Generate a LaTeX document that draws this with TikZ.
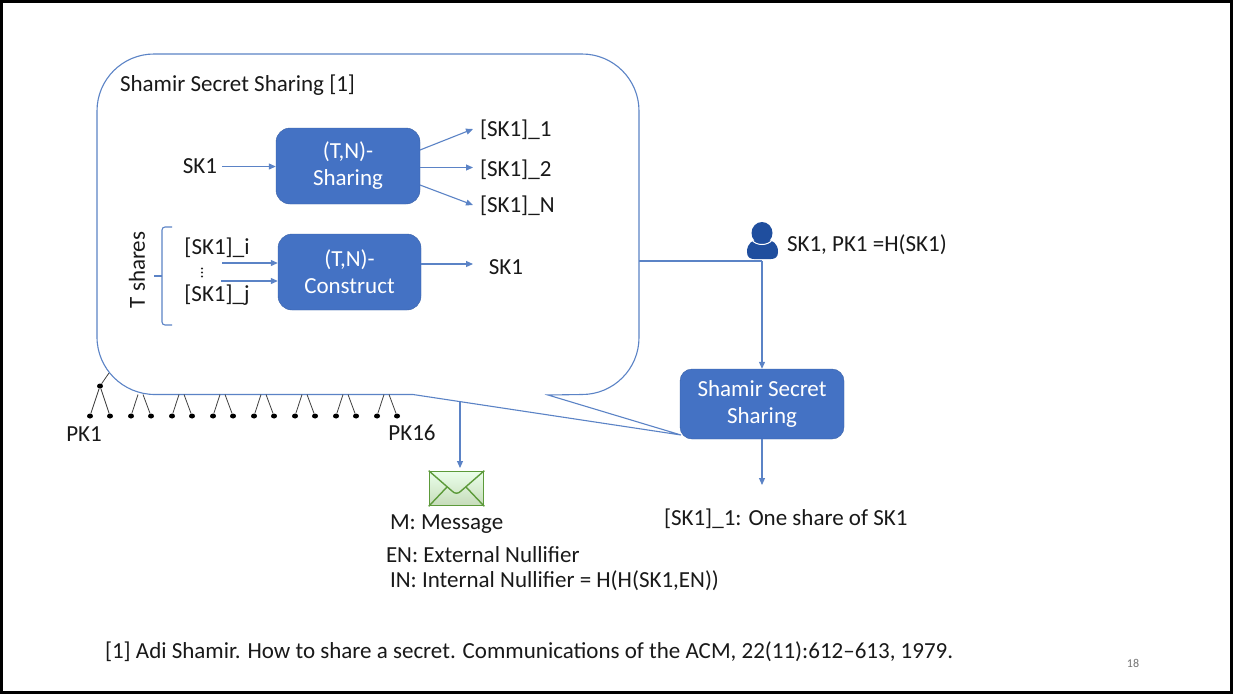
\documentclass[tikz,border=0pt]{standalone}
\usepackage{fontspec}
\setmainfont{Carlito}
\usetikzlibrary{arrows.meta,calc,shapes.geometric}
\definecolor{boxblue}{HTML}{4472C4}
\definecolor{linkblue}{HTML}{5B83C6}
\definecolor{iconblue}{HTML}{1F4E9E}
\definecolor{envgreen}{HTML}{5C9A3A}
\tikzset{
  x=1pt,y=-1pt,
  txt/.style={inner sep=0pt,outer sep=0pt,font=\fontsize{23}{27}\selectfont,text=black!90},
  ltxt/.style={txt,anchor=west},
  bluebox/.style={draw=boxblue!85!black,fill=boxblue,rounded corners=14pt,text=white,align=center,inner sep=0pt,font=\fontsize{23}{27}\selectfont},
  link/.style={draw=linkblue,line width=1.1pt},
  arr/.style={link,-{Triangle[length=7pt,width=6pt]}},
  leaf/.style={draw=black!75,line width=0.8pt},
  leafdot/.style={fill=black,draw=none,ellipse,minimum width=6pt,minimum height=5pt,inner sep=0pt},
}
\begin{document}
\begin{tikzpicture}
\useasboundingbox (0,0) rectangle (1233,694);
\fill[white] (0,0) rectangle (1233,694);
\draw[black,line width=2.5pt] (1.5,1.5) rectangle (1231.5,692.5);

% speech bubble
\coordinate (tail) at (681,435);
\coordinate (tailA) at (413,394.5);
\coordinate (tailB) at (548,395);
\coordinate (drop) at (460,401.6);
\coordinate (bubR) at (639,261);
\draw[link,line join=miter]
  (155,394.5) -- (tailA) -- (tail) -- (tailB) -- (582,394.5)
  .. controls (613.5,394.5) and (639,369) .. (639,337.5)
  -- (639,111)
  .. controls (639,79.5) and (613.5,54) .. (582,54)
  -- (154,54)
  .. controls (122.5,54) and (97,79.5) .. (97,111)
  -- (97,337)
  .. controls (97,368.8) and (123,394.5) .. (155,394.5);

\node[ltxt] (title) at (120,85.5) {Shamir Secret Sharing [1]};

% sharing
\node[bluebox,minimum width=144pt,minimum height=76pt] (sharing) at (348,166) {(T,N)-\\Sharing};
\node[txt] (sk1a) at (200,166) {SK1};
\draw[arr] (222,166.5) coordinate (sa) -- (sa -| sharing.west);
\node[ltxt] (s1) at (480,130) {[SK1]\_1};
\node[ltxt] (s2) at (480,169.5) {[SK1]\_2};
\node[ltxt] (sn) at (480,205.5) {[SK1]\_N};
\coordinate (o1) at (420,150);
\coordinate (o2) at (420,167.5);
\coordinate (o3) at (420,185);
\coordinate (e1) at (473,129);
\coordinate (e2) at (473,167.5);
\coordinate (e3) at (473,205);
\draw[arr] (o1) -- (e1);
\draw[arr] (o2) -- (e2);
\draw[arr] (o3) -- (e3);

% construct
\node[bluebox,minimum width=143pt,minimum height=76pt] (construct) at (349.5,272) {(T,N)-\\Construct};
\node[txt,rotate=90] (tshares) at (137,270) {T shares};
\coordinate (brTop) at (172,227);
\coordinate (brBot) at (172,325);
\coordinate (brMid) at (154,276);
\draw[link,rounded corners=3pt] (brTop) -- (162,227) -- (162,325) -- (brBot);
\draw[link] (brMid) -- (162,276);
\node[txt] (ski) at (217,248) {[SK1]\_i};
\node[txt] (skj) at (217,295) {[SK1]\_j};
\fill[black!85] (202,268.5) circle (1.1pt) (202,272.5) circle (1.1pt) (202,276.5) circle (1.1pt);
\draw[arr] (222,263) coordinate (ca) -- (ca -| construct.west);
\draw[arr] (221,281) coordinate (cb) -- (cb -| construct.west);
\node[txt] (sk1b) at (506,267) {SK1};
\draw[arr] (construct.east |- 0,264) -- (473,264) coordinate (cc);

% tree of keys
\node[leafdot] (root) at (100,386) {};
\coordinate (rootTop) at (109,373);
\draw[leaf] (rootTop) -- (root);
\node[leafdot] (pk1l) at (90,416) {};
\node[leafdot] (pk1r) at (110,416) {};
\draw[leaf] (root) -- (pk1l);
\draw[leaf] (root) -- (pk1r);
\foreach \i in {0,...,6} {
  \pgfmathsetmacro{\xl}{131+41*\i}
  \pgfmathsetmacro{\xr}{151+41*\i}
  \node[leafdot] (l\i) at (\xl,416) {};
  \node[leafdot] (r\i) at (\xr,416) {};
  \coordinate (tl\i) at (\xl+7,394.5);
  \coordinate (tr\i) at (\xr-8,394.5);
  \draw[leaf] (tl\i) -- (l\i);
  \draw[leaf] (tr\i) -- (r\i);
}
\node[txt] (pk1) at (84,434) {PK1};
\node[txt] (pk16) at (412,433) {PK16};

% user
\fill[iconblue] (762,233) ellipse (10.5pt and 11pt);
\fill[iconblue] (747,252) .. controls (747,243) and (753,240) .. (757,240) -- (767,240) .. controls (772,240) and (778,243) .. (778,252) .. controls (778,257) and (775,259) .. (771,259) -- (754,259) .. controls (750,259) and (747,257) .. (747,252) -- cycle;
\draw[white,line width=1pt] (752,240) .. controls (756,246) and (768,246) .. (772,240);
\coordinate (user) at (762,261);
\node[ltxt] (userlbl) at (787,245) {SK1, PK1 =H(SK1)};
\node[bluebox,rounded corners=12pt,minimum width=164pt,minimum height=70pt] (shamir) at (762,404) {Shamir Secret\\Sharing};
\draw[link] (bubR) -- (user);
\draw[arr] (user) -- (shamir.north);
\coordinate (shareEnd) at (762,485);
\draw[arr] (shamir.south) -- (shareEnd);
\node[ltxt] (share) at (664,519) {[SK1]\_1: One share of SK1};

% message
\node[draw=envgreen,line width=1.6pt,top color=green!8!white,bottom color=envgreen!35!white,minimum width=54pt,minimum height=34pt,inner sep=0pt] (env) at (456.5,488.5) {};
\draw[envgreen,line width=1.4pt] (env.north west) -- (452,491) .. controls (455,494) and (458,494) .. (461,491) -- (env.north east);
\draw[envgreen,line width=1.4pt] (env.south west) -- (447,487);
\draw[envgreen,line width=1.4pt] (env.south east) -- (466,487);
\draw[arr] (drop) -- (drop |- 0,468);
\node[ltxt] (msg) at (390,524) {M: Message};
\node[ltxt] (en) at (386,554.5) {EN: External Nullifier};
\node[ltxt] (in) at (390,580.5) {IN: Internal Nullifier = H(H(SK1,EN))};

\node[ltxt] (ref) at (105,651.5) {[1] Adi Shamir. How to share a secret. Communications of the ACM, 22(11):612--613, 1979.};
\node[txt,font=\fontsize{12}{14}\selectfont,text=black!55] (page) at (1133,663) {18};
\end{tikzpicture}
\end{document}
